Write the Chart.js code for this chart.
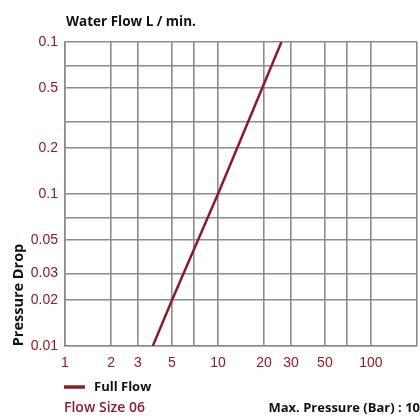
<!DOCTYPE html>
<html>
<head>
<meta charset="utf-8">
<script src="https://cdn.jsdelivr.net/npm/chart.js@4.4.0/dist/chart.umd.min.js"></script>
<style>
  html, body { margin: 0; padding: 0; background: #fff; }
  #wrap { width: 420px; height: 416px; position: relative; }
</style>
</head>
<body>
<div id="wrap"><canvas id="flowChart" width="420" height="416"></canvas></div>
<script>
  // flow (L/min) vs pressure drop, log-log
  const flowValues = [3.75, 5, 10, 26];
  const dropValues = [0.01, 0.02, 0.1, 1];

  const xTickValues = [1, 2, 3, 5, 7, 10, 20, 30, 50, 70, 100, 200];
  const xTickLabels = ['1', '2', '3', '5', '', '10', '20', '30', '50', '', '100', ''];
  const yTickValues = [0.01, 0.02, 0.03, 0.05, 0.07, 0.1, 0.2, 0.3, 0.5, 0.7, 1];
  const yTickLabels = ['0.01', '0.02', '0.03', '0.05', '', '0.1', '0.2', '', '0.5', '', '0.1'];

  const red = '#8b1b29';
  const gridGray = '#8c8c8c';

  function labelFor(values, labels, v) {
    let i = values.findIndex(t => Math.abs(t - v) / t < 1e-6);
    return i < 0 ? '' : labels[i];
  }

  // extra texts: axis names, legend line, footer
  const extraText = {
    id: 'extraText',
    afterDraw(chart) {
      const ctx = chart.ctx;
      ctx.save();
      ctx.textBaseline = 'middle';

      ctx.fillStyle = '#111';
      ctx.font = 'bold 13.5px "Open Sans"';
      ctx.textAlign = 'left';
      ctx.fillText('Water Flow L / min.', 66, 22);

      ctx.save();
      ctx.translate(19, 295);
      ctx.rotate(-Math.PI / 2);
      ctx.textAlign = 'center';
      ctx.font = 'bold 14.5px "Open Sans"';
      ctx.fillText('Pressure Drop', 0, 0);
      ctx.restore();

      // legend
      ctx.strokeStyle = red;
      ctx.lineWidth = 3.5;
      ctx.beginPath();
      ctx.moveTo(64, 387);
      ctx.lineTo(85, 387);
      ctx.stroke();
      ctx.fillStyle = '#111';
      ctx.font = 'bold 13px "Open Sans"';
      ctx.fillText('Full Flow', 94, 387);

      ctx.fillStyle = red;
      ctx.font = '600 14px "Open Sans"';
      ctx.fillText('Flow Size 06', 64, 408);

      ctx.fillStyle = '#111';
      ctx.font = 'bold 13px "Open Sans"';
      ctx.textAlign = 'right';
      ctx.fillText('Max. Pressure (Bar) : 10', 420, 408);
      ctx.restore();
    }
  };

  const ctx = document.getElementById('flowChart').getContext('2d');
  const flowChart = new Chart(ctx, {
    type: 'line',
    data: {
      datasets: [{
        label: 'Full Flow',
        data: flowValues.map((f, i) => ({ x: f, y: dropValues[i] })),
        borderColor: red,
        borderWidth: 2.5,
        pointRadius: 0,
        tension: 0,
        fill: false
      }]
    },
    options: {
      responsive: false,
      animation: false,
      layout: { autoPadding: false, padding: { top: 42, right: 3, left: 0, bottom: 0 } },
      plugins: {
        legend: { display: false },
        tooltip: { enabled: false }
      },
      scales: {
        x: {
          type: 'logarithmic',
          min: 1,
          max: 200,
          afterBuildTicks: s => { s.ticks = xTickValues.map(v => ({ value: v })); },
          afterFit: s => { s.height = 70; s.paddingLeft = 0; s.paddingRight = 0; },
          grid: { color: gridGray, lineWidth: 1.6, drawTicks: false },
          border: { display: true, color: gridGray, width: 1.6 },
          ticks: {
            autoSkip: false,
            maxRotation: 0,
            padding: 9,
            color: red,
            font: { family: 'Liberation Sans', size: 14 },
            callback: v => labelFor(xTickValues, xTickLabels, v)
          }
        },
        y: {
          type: 'logarithmic',
          min: 0.01,
          max: 1,
          afterBuildTicks: s => { s.ticks = yTickValues.map(v => ({ value: v })); },
          afterFit: s => { s.width = 65; s.paddingTop = 0; s.paddingBottom = 0; },
          grid: { color: gridGray, lineWidth: 1.6, drawTicks: false },
          border: { display: true, color: gridGray, width: 1.6 },
          ticks: {
            autoSkip: false,
            padding: 7,
            color: red,
            font: { family: 'Liberation Sans', size: 14 },
            callback: v => labelFor(yTickValues, yTickLabels, v)
          }
        }
      }
    },
    plugins: [extraText]
  });
</script>
</body>
</html>
